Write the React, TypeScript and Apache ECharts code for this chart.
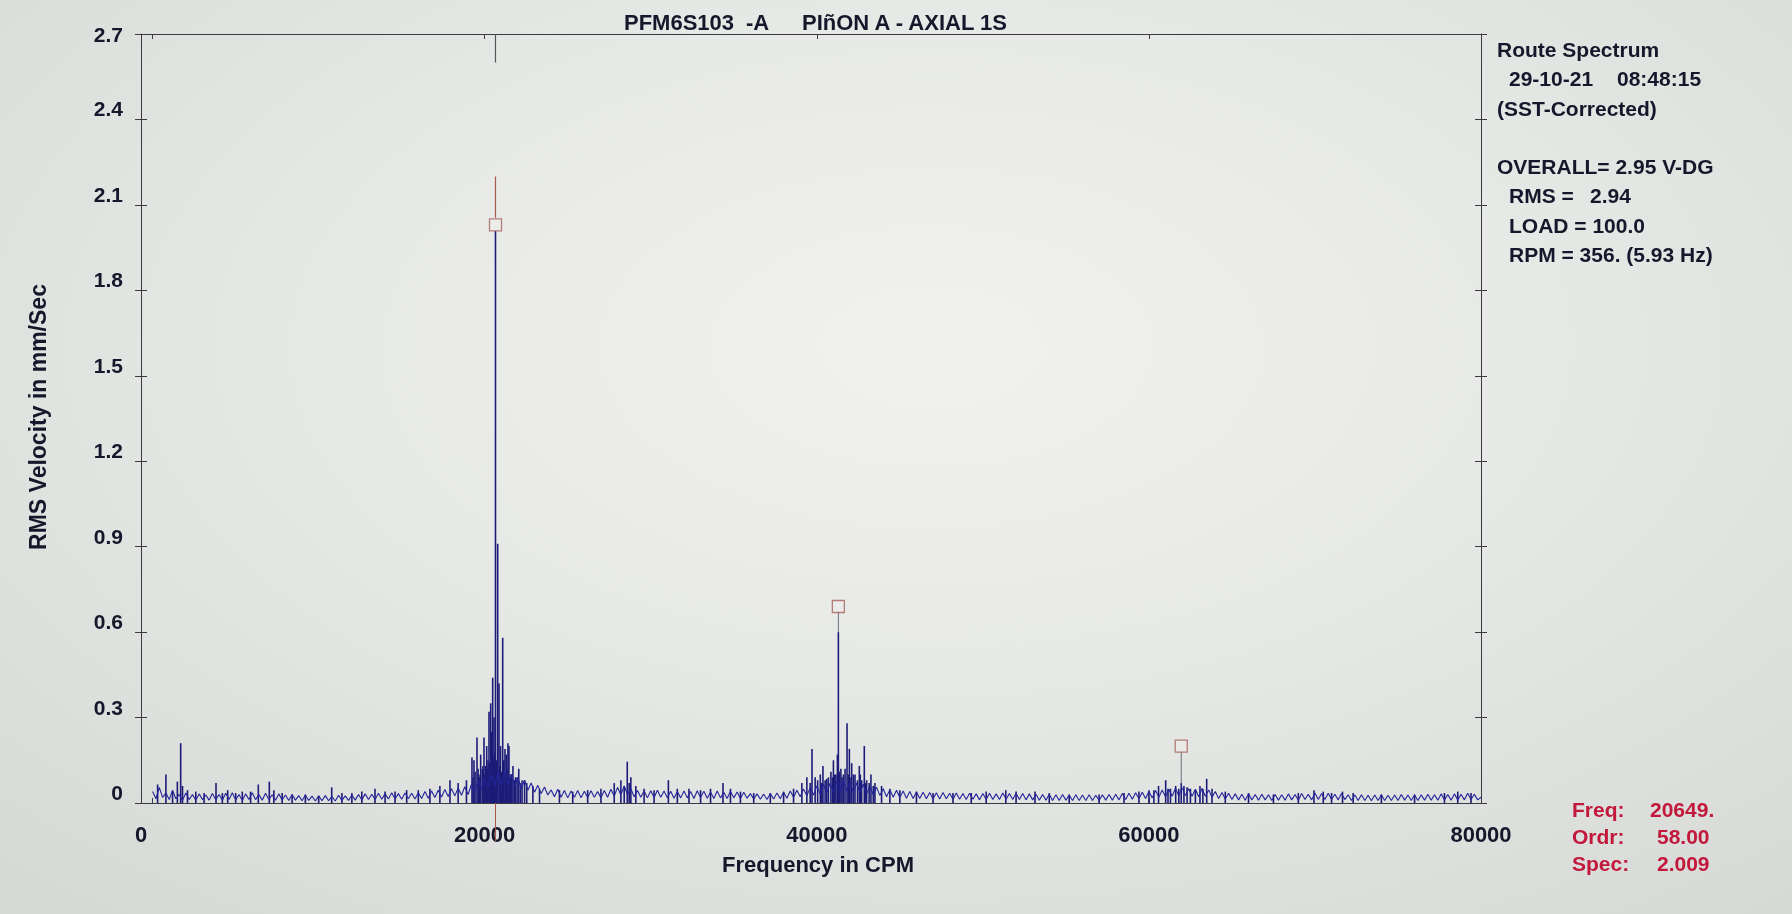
import React, { useEffect, useRef } from "react";
import * as echarts from "echarts";

const FONT = '"Liberation Sans", Arial, Helvetica, sans-serif';
const INK = "#17172b";
const RED = "#c2183c";
const FLOOR_COLOR = "#24249a";
const SPIKE_COLOR = "#1c1c78";
const AXIS_COLOR = "#3a3a40";

// ---- data ----
const xTickValues = [0, 20000, 40000, 60000, 80000];
const xLabelValues = [-700, 20000, 40000, 60000, 80000]; // first label sits on the left frame
const yLabelValues = [0, 0.3, 0.6, 0.9, 1.2, 1.5, 1.8, 2.1, 2.4];
const yTopLabel = [2.7];

// noise floor, one value every floorStep CPM from 0 to 80000
const floorStep = 200;
const floorValues = [
  0.04, 0.015, 0.055, 0.02, 0.035, 0.012, 0.045, 0.015, 0.03, 0.01, 0.035, 0.012, 0.03, 0.01, 0.032, 0.012, 0.028, 0.01, 0.033, 0.012,
  0.03, 0.01, 0.034, 0.012, 0.036, 0.011, 0.03, 0.009, 0.032, 0.012, 0.036, 0.012, 0.03, 0.01, 0.034, 0.012, 0.029, 0.01, 0.032, 0.011,
  0.028, 0.009, 0.03, 0.01, 0.026, 0.008, 0.028, 0.009, 0.024, 0.007, 0.025, 0.008, 0.026, 0.008, 0.023, 0.007, 0.027, 0.009, 0.025, 0.009,
  0.028, 0.01, 0.03, 0.011, 0.032, 0.012, 0.031, 0.012, 0.034, 0.013, 0.032, 0.014, 0.036, 0.014, 0.033, 0.013, 0.035, 0.015, 0.034, 0.014,
  0.036, 0.016, 0.04, 0.017, 0.042, 0.019, 0.045, 0.021, 0.047, 0.023, 0.05, 0.025, 0.053, 0.027, 0.057, 0.03, 0.065, 0.04, 0.078, 0.048,
  0.09, 0.055, 0.1, 0.06, 0.105, 0.062, 0.11, 0.065, 0.1, 0.058, 0.09, 0.05, 0.08, 0.045, 0.07, 0.038, 0.062, 0.033, 0.056, 0.028,
  0.046, 0.022, 0.048, 0.02, 0.044, 0.018, 0.042, 0.02, 0.044, 0.018, 0.041, 0.019, 0.043, 0.02, 0.04, 0.018, 0.044, 0.02, 0.048, 0.024,
  0.055, 0.028, 0.06, 0.03, 0.05, 0.022, 0.044, 0.02, 0.042, 0.018, 0.043, 0.019, 0.045, 0.02, 0.042, 0.018, 0.041, 0.017, 0.04, 0.018,
  0.042, 0.018, 0.04, 0.016, 0.043, 0.019, 0.041, 0.017, 0.039, 0.016, 0.042, 0.018, 0.038, 0.016, 0.041, 0.018, 0.039, 0.016, 0.038, 0.017,
  0.033, 0.014, 0.032, 0.013, 0.031, 0.012, 0.033, 0.014, 0.035, 0.015, 0.038, 0.017, 0.042, 0.02, 0.045, 0.022, 0.049, 0.025, 0.054, 0.028,
  0.06, 0.032, 0.066, 0.035, 0.07, 0.037, 0.074, 0.04, 0.078, 0.042, 0.072, 0.038, 0.07, 0.036, 0.066, 0.032, 0.06, 0.028, 0.055, 0.026,
  0.05, 0.022, 0.047, 0.02, 0.045, 0.019, 0.042, 0.017, 0.04, 0.016, 0.039, 0.016, 0.038, 0.015, 0.037, 0.014, 0.036, 0.014, 0.037, 0.015,
  0.034, 0.013, 0.035, 0.013, 0.033, 0.012, 0.034, 0.013, 0.032, 0.011, 0.033, 0.012, 0.034, 0.012, 0.032, 0.012, 0.035, 0.013, 0.033, 0.012,
  0.034, 0.012, 0.033, 0.011, 0.032, 0.011, 0.031, 0.01, 0.03, 0.01, 0.031, 0.009, 0.029, 0.009, 0.03, 0.01, 0.028, 0.009, 0.029, 0.009,
  0.028, 0.009, 0.029, 0.009, 0.027, 0.009, 0.029, 0.01, 0.03, 0.01, 0.031, 0.011, 0.033, 0.012, 0.034, 0.013, 0.036, 0.015, 0.038, 0.016,
  0.04, 0.018, 0.044, 0.02, 0.046, 0.022, 0.048, 0.024, 0.052, 0.025, 0.053, 0.026, 0.05, 0.024, 0.048, 0.022, 0.051, 0.024, 0.046, 0.02,
  0.04, 0.016, 0.037, 0.014, 0.034, 0.012, 0.032, 0.011, 0.031, 0.01, 0.032, 0.011, 0.03, 0.01, 0.031, 0.011, 0.029, 0.009, 0.03, 0.01,
  0.029, 0.01, 0.032, 0.011, 0.03, 0.01, 0.033, 0.012, 0.031, 0.011, 0.035, 0.012, 0.033, 0.012, 0.034, 0.012, 0.031, 0.011, 0.033, 0.012,
  0.029, 0.009, 0.028, 0.009, 0.029, 0.009, 0.027, 0.008, 0.028, 0.009, 0.029, 0.009, 0.027, 0.009, 0.028, 0.009, 0.03, 0.01, 0.028, 0.009,
  0.028, 0.009, 0.029, 0.01, 0.031, 0.01, 0.029, 0.01, 0.032, 0.011, 0.03, 0.01, 0.032, 0.011, 0.031, 0.011, 0.034, 0.012, 0.031, 0.011,
  0.02,
];

// discrete spectral lines (CPM, mm/s)
const spikeFreqs = [
  300, 800, 1200, 1490, 1690, 1800, 2100, 2600, 3100, 3817, 4200, 4520, 5000, 5400, 5900,
  6365, 7027, 7300, 7800, 8400, 9200, 10000, 10785, 11400, 12000, 12600, 13392, 14000,
  14600, 15300, 16000, 16700, 17300, 17907, 18400, 18900,
  19233, 19300, 19354, 19420, 19535, 19600, 19650, 19700, 19757, 19850, 19900, 19956, 20000,
  20050, 20119, 20150, 20200, 20257, 20300, 20360, 20420, 20480, 20520, 20560, 20600, 20649,
  20700, 20780, 20860, 20900, 20950, 21000, 21083, 21120, 21150, 21220, 21260, 21300, 21350,
  21400, 21460, 21500, 21550, 21620, 21700, 21780, 21850, 21950, 22050, 22150, 22250, 22400,
  22530, 22900, 23300,
  24500, 25300, 26200, 27000, 27800, 28200, 28400, 28584, 28700, 28800, 29100, 29600, 30200,
  31060, 31600, 32300, 33000, 33600, 34350, 34800, 35400, 36200, 37200, 38000, 38600, 39100,
  39400, 39600, 39710, 39900, 40050, 40210, 40300, 40370, 40500, 40600, 40700, 40850, 40950,
  41000, 41080, 41150, 41240, 41298, 41350, 41450, 41520, 41600, 41700, 41820, 41900, 41960,
  42000, 42100, 42200, 42300, 42450, 42560, 42620, 42700, 42860, 42950, 43000, 43150, 43260,
  43400, 43500, 43900, 44400, 45000, 46000, 47000, 48200, 49300,
  50200, 51380, 52000, 53140, 54000, 55200, 57000, 58500, 59400, 60000, 60300, 60580, 61010,
  61150, 61300, 61612, 61800, 61947, 62110, 62300, 62500, 62800, 63075, 63250, 63480, 63800,
  64600, 66000, 67500, 69000, 69940, 70500, 71000, 71660, 72300, 74000, 76000, 77800, 78600, 79400,
];
const spikeAmps = [
  0.065, 0.1, 0.04, 0.075, 0.21, 0.06, 0.045, 0.04, 0.035, 0.07, 0.035, 0.045, 0.035, 0.04, 0.04,
  0.065, 0.075, 0.045, 0.035, 0.03, 0.03, 0.025, 0.055, 0.035, 0.035, 0.04, 0.05, 0.04,
  0.04, 0.045, 0.045, 0.05, 0.06, 0.08, 0.07, 0.08,
  0.16, 0.09, 0.15, 0.11, 0.23, 0.12, 0.1, 0.09, 0.17, 0.12, 0.13, 0.23, 0.1,
  0.13, 0.2, 0.12, 0.15, 0.32, 0.14, 0.35, 0.25, 0.44, 0.16, 0.3, 0.18, 2.009,
  0.15, 0.91, 0.42, 0.13, 0.2, 0.11, 0.58, 0.12, 0.15, 0.19, 0.1, 0.17, 0.12,
  0.21, 0.2, 0.09, 0.1, 0.1, 0.13, 0.08, 0.09, 0.09, 0.12, 0.07, 0.08, 0.08,
  0.07, 0.06, 0.05,
  0.045, 0.04, 0.045, 0.05, 0.07, 0.08, 0.06, 0.145, 0.07, 0.09, 0.06, 0.05, 0.045,
  0.08, 0.05, 0.05, 0.045, 0.05, 0.07, 0.05, 0.04, 0.035, 0.035, 0.04, 0.05, 0.07,
  0.09, 0.07, 0.19, 0.09, 0.08, 0.1, 0.07, 0.13, 0.08, 0.085, 0.09, 0.11, 0.09,
  0.15, 0.1, 0.1, 0.17, 0.6, 0.11, 0.12, 0.09, 0.1, 0.12, 0.28, 0.1, 0.19,
  0.09, 0.14, 0.1, 0.1, 0.08, 0.13, 0.1, 0.08, 0.2, 0.07, 0.08, 0.07, 0.1,
  0.06, 0.07, 0.06, 0.05, 0.045, 0.04, 0.035, 0.035, 0.035,
  0.04, 0.045, 0.04, 0.04, 0.035, 0.03, 0.03, 0.035, 0.04, 0.045, 0.045, 0.06, 0.08,
  0.05, 0.05, 0.06, 0.05, 0.07, 0.06, 0.055, 0.05, 0.045, 0.06, 0.05, 0.085, 0.05,
  0.04, 0.035, 0.03, 0.035, 0.045, 0.04, 0.035, 0.04, 0.035, 0.03, 0.03, 0.035, 0.04, 0.035,
];

// harmonic markers
const markerFreqs = [20649, 41298, 61947];
const markerAmps = [2.03, 0.69, 0.2];
const stemBases = [2.009, 0.6, 0.07];

// cursor
const cursorFreq = 20649;
const cursorFrom = 2.055;
const cursorTo = 2.2;
const topMarkFrom = 2.7;
const topMarkTo = 2.6;

// ---- option ----
const axisLineStyle = { color: AXIS_COLOR, width: 1 };
const labelStyle = {
  fontSize: 21,
  fontWeight: "bold" as const,
  color: INK,
  fontFamily: FONT,
};
const fmt = (v: number) => (v === 0 ? "0" : v.toFixed(1));

const yBase = {
  type: "value" as const,
  min: 0,
  max: 2.7,
  interval: 0.3,
  splitLine: { show: false },
};

const option: any = {
  animation: false,
  backgroundColor: "transparent",
  grid: { left: 141, right: 311, top: 34, bottom: 111 },
  xAxis: [
    {
      type: "value",
      position: "bottom",
      min: -700,
      max: 80000,
      axisLine: { show: true, onZero: false, lineStyle: axisLineStyle },
      axisTick: { show: true, inside: true, length: 5, customValues: xTickValues, lineStyle: axisLineStyle },
      axisLabel: {
        ...labelStyle,
        fontSize: 22,
        margin: 20,
        customValues: xLabelValues,
        formatter: (v: number) => (v < 0 ? "0" : String(v)),
      },
      splitLine: { show: false },
    },
    {
      type: "value",
      position: "top",
      min: -700,
      max: 80000,
      axisLine: { show: true, onZero: false, lineStyle: axisLineStyle },
      axisTick: { show: true, inside: true, length: 5, customValues: xTickValues, lineStyle: axisLineStyle },
      axisLabel: { show: false },
      splitLine: { show: false },
    },
  ],
  yAxis: [
    {
      ...yBase,
      position: "left",
      axisLine: { show: true, onZero: false, lineStyle: axisLineStyle },
      axisTick: { show: true, inside: false, length: 6, lineStyle: axisLineStyle },
      axisLabel: {
        ...labelStyle,
        margin: 18,
        verticalAlign: "bottom",
        customValues: yLabelValues,
        formatter: fmt,
      },
    },
    {
      ...yBase,
      position: "left",
      axisLine: { show: false, onZero: false },
      axisTick: { show: true, inside: true, length: 6, lineStyle: axisLineStyle },
      axisLabel: {
        ...labelStyle,
        margin: 18,
        verticalAlign: "middle",
        customValues: yTopLabel,
        formatter: fmt,
      },
    },
    {
      ...yBase,
      position: "right",
      axisLine: { show: true, onZero: false, lineStyle: axisLineStyle },
      axisTick: { show: true, inside: false, length: 6, lineStyle: axisLineStyle },
      axisLabel: { show: false },
    },
    {
      ...yBase,
      position: "right",
      axisLine: { show: false, onZero: false },
      axisTick: { show: true, inside: true, length: 6, lineStyle: axisLineStyle },
      axisLabel: { show: false },
    },
  ],
  series: [
    {
      name: "spikes",
      type: "bar",
      xAxisIndex: 0,
      yAxisIndex: 0,
      barWidth: 1.6,
      itemStyle: { color: SPIKE_COLOR },
      data: spikeFreqs.map((f, i) => [f, spikeAmps[i]]),
      z: 3,
      silent: true,
    },
    {
      name: "floor",
      type: "line",
      xAxisIndex: 0,
      yAxisIndex: 0,
      symbol: "none",
      lineStyle: { color: FLOOR_COLOR, width: 1.1 },
      data: floorValues.map((v, i) => [i * floorStep, v]),
      z: 4,
      silent: true,
    },
    ...markerFreqs.slice(1).map((f, k) => ({
      name: "stem" + k,
      type: "line",
      xAxisIndex: 0,
      yAxisIndex: 0,
      symbol: "none",
      lineStyle: { color: "#6f6f7c", width: 1 },
      data: [
        [f, stemBases[k + 1]],
        [f, markerAmps[k + 1] - 0.02],
      ],
      z: 5,
      silent: true,
    })),
    {
      name: "cursor",
      type: "line",
      xAxisIndex: 0,
      yAxisIndex: 0,
      symbol: "none",
      lineStyle: { color: "#a8574e", width: 1.2 },
      data: [
        [cursorFreq, cursorFrom],
        [cursorFreq, cursorTo],
      ],
      z: 5,
      silent: true,
    },
    {
      name: "topmark",
      type: "line",
      xAxisIndex: 0,
      yAxisIndex: 0,
      symbol: "none",
      lineStyle: { color: "#55555c", width: 1.2 },
      data: [
        [cursorFreq, topMarkFrom],
        [cursorFreq, topMarkTo],
      ],
      z: 5,
      silent: true,
    },
    {
      name: "markers",
      type: "scatter",
      xAxisIndex: 0,
      yAxisIndex: 0,
      symbol: "rect",
      symbolSize: 12,
      itemStyle: { color: "rgba(240,240,238,0.6)", borderColor: "#a6605a", borderWidth: 1.3 },
      data: markerFreqs.map((f, i) => [f, markerAmps[i]]),
      z: 6,
      silent: true,
    },
  ],
};

function txt(text: string, x: number, y: number, opts: any = {}) {
  return {
    type: "text",
    x,
    y,
    silent: true,
    rotation: opts.rotation || 0,
    style: {
      text,
      fill: opts.color || INK,
      fontSize: opts.size || 21,
      fontWeight: "bold",
      fontFamily: FONT,
      textAlign: opts.align || "left",
      textVerticalAlign: "middle",
    },
  };
}

export default function App() {
  const ref = useRef<HTMLDivElement>(null);
  useEffect(() => {
    if (!ref.current) return;
    const chart = echarts.init(ref.current, null, { renderer: "svg" });
    chart.setOption(option);
    const p0 = chart.convertToPixel({ xAxisIndex: 0, yAxisIndex: 0 }, [cursorFreq, 0]) as number[];
    const graphics: any[] = [
      // title
      txt("PFM6S103", 624, 22, { size: 22 }),
      txt("-A", 746, 22, { size: 22 }),
      txt("PIñON A - AXIAL 1S", 802, 22, { size: 22 }),
      // axis names
      txt("RMS Velocity in mm/Sec", 38, 417, { align: "center", rotation: Math.PI / 2, size: 23 }),
      txt("Frequency in CPM", 818, 864, { align: "center", size: 22 }),
      // info panel
      txt("Route Spectrum", 1497, 49),
      txt("29-10-21", 1509, 78.5),
      txt("08:48:15", 1617, 78.5),
      txt("(SST-Corrected)", 1497, 108),
      txt("OVERALL= 2.95 V-DG", 1497, 166),
      txt("RMS =", 1509, 195.5),
      txt("2.94", 1590, 195.5),
      txt("LOAD = 100.0", 1509, 225),
      txt("RPM = 356. (5.93 Hz)", 1509, 254),
      // cursor readout
      txt("Freq:", 1572, 809, { color: RED }),
      txt("20649.", 1650, 809, { color: RED }),
      txt("Ordr:", 1572, 836, { color: RED }),
      txt("58.00", 1657, 836, { color: RED }),
      txt("Spec:", 1572, 863, { color: RED }),
      txt("2.009", 1657, 863, { color: RED }),
      // cursor continuation below the baseline
      {
        type: "line",
        silent: true,
        shape: { x1: p0[0], y1: p0[1] - 14, x2: p0[0], y2: p0[1] + 38 },
        style: { stroke: "#a8574e", lineWidth: 1 },
        z: 1,
      },
    ];
    chart.setOption({ graphic: graphics });
    return () => chart.dispose();
  }, []);
  return (
    <div
      ref={ref}
      style={{
        position: "fixed",
        left: 0,
        top: 0,
        width: 1792,
        height: 914,
        background:
          "radial-gradient(ellipse 75% 80% at 52% 38%, #f1f2f0 0%, #e7e9e7 45%, #d6d9d6 100%)",
      }}
    />
  );
}
